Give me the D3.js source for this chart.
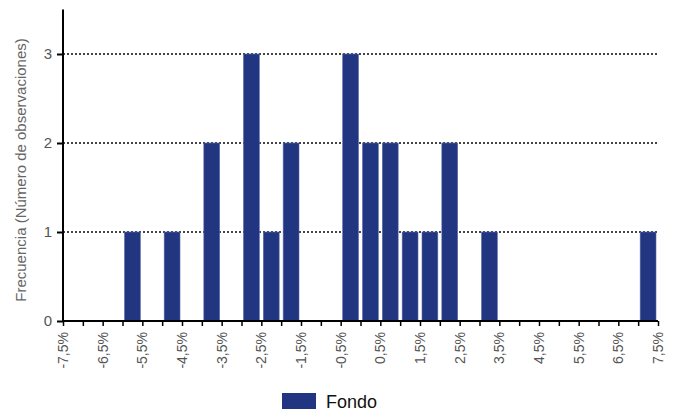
<!DOCTYPE html>
<html><head><meta charset="utf-8">
<script src="https://cdn.jsdelivr.net/npm/d3@7"></script>
<style>body{margin:0;background:#fff;}svg{display:block;font-family:"Liberation Sans",Arial,sans-serif;}</style>
</head><body><svg id="c" width="677" height="412"></svg>
<script>
// Bin lower edges (%), each bin 0.5% wide
const binStarts = [-7.5,-7,-6.5,-6,-5.5,-5,-4.5,-4,-3.5,-3,-2.5,-2,-1.5,-1,-0.5,0,0.5,1,1.5,2,2.5,3,3.5,4,4.5,5,5.5,6,6.5,7];
const counts    = [0,0,0,1,0,1,0,2,0,3,1,2,0,0,3,2,2,1,1,2,0,1,0,0,0,0,0,0,0,1];
const xTickValues = [-7.5,-6.5,-5.5,-4.5,-3.5,-2.5,-1.5,-0.5,0.5,1.5,2.5,3.5,4.5,5.5,6.5,7.5];
const yTickValues = [0,1,2,3];
const seriesName = "Fondo";
const binWidth = 0.5;

const svg = d3.select("#c");
const mLeft = 63, mRight = 658, mTop = 9.5, mBottom = 321;
const x = d3.scaleLinear().domain([-7.5, 7.5]).range([mLeft, mRight]);
const y = d3.scaleLinear().domain([0, 3.5]).range([mBottom, mTop]);
const color = "#213581";

// gridlines
svg.append("g").selectAll("line").data(yTickValues.filter(d => d > 0)).join("line")
  .attr("x1", mLeft).attr("x2", mRight)
  .attr("y1", d => y(d)).attr("y2", d => y(d))
  .attr("stroke", "#444").attr("stroke-width", 2).attr("stroke-dasharray", "2,2");

// bars
const bins = binStarts.map((s, i) => ({s, c: counts[i]})).filter(d => d.c > 0);
svg.append("g").selectAll("rect").data(bins).join("rect")
  .attr("x", d => x(d.s) + 2)
  .attr("width", d => x(d.s + binWidth) - x(d.s) - 4)
  .attr("y", d => y(d.c))
  .attr("height", d => y(0) - y(d.c))
  .attr("fill", color).attr("stroke", "#5a6aa8").attr("stroke-width", 0.6);

// x axis
const allTicks = d3.range(-7.5, 7.5001, 0.5);
const xa = svg.append("g").attr("transform", `translate(0,${mBottom})`);
xa.call(d3.axisBottom(x).tickValues(allTicks).tickSize(5).tickFormat(""));
xa.select(".domain").attr("stroke", "#000").attr("stroke-width", 2).attr("d", `M${mLeft},0H${mRight}`);
xa.selectAll(".tick line").attr("stroke", "#000").attr("stroke-width", 1.5);
xa.selectAll(".lbl").data(xTickValues).join("text")
  .attr("class", "lbl")
  .attr("transform", d => `translate(${x(d) + 5},11) rotate(-90)`)
  .attr("text-anchor", "end")
  .attr("font-size", 14).attr("fill", "#555")
  .text(d => d3.format(".1f")(d).replace(".", ",").replace("−", "-") + "%");

// y axis
const ya = svg.append("g").attr("transform", `translate(${mLeft},0)`);
ya.call(d3.axisLeft(y).tickValues(yTickValues).tickSize(6).tickPadding(5).tickFormat(d3.format("d")));
ya.select(".domain").attr("stroke", "#000").attr("stroke-width", 2).attr("d", `M0,${mTop}V${mBottom}`);
ya.selectAll(".tick line").attr("stroke", "#000").attr("stroke-width", 2);
ya.selectAll(".tick text").attr("font-size", 15).attr("fill", "#555").attr("font-family", "Liberation Sans, Arial, sans-serif");

// y label
svg.append("text")
  .attr("transform", `translate(26,170) rotate(-90)`)
  .attr("text-anchor", "middle").attr("font-size", 15).attr("fill", "#666")
  .text("Frecuencia (Número de observaciones)");

// legend
svg.append("rect").attr("x", 282).attr("y", 393).attr("width", 34).attr("height", 16).attr("fill", color);
svg.append("text").attr("x", 326).attr("y", 408).attr("font-size", 18).attr("fill", "#111").text(seriesName);
</script></body></html>
